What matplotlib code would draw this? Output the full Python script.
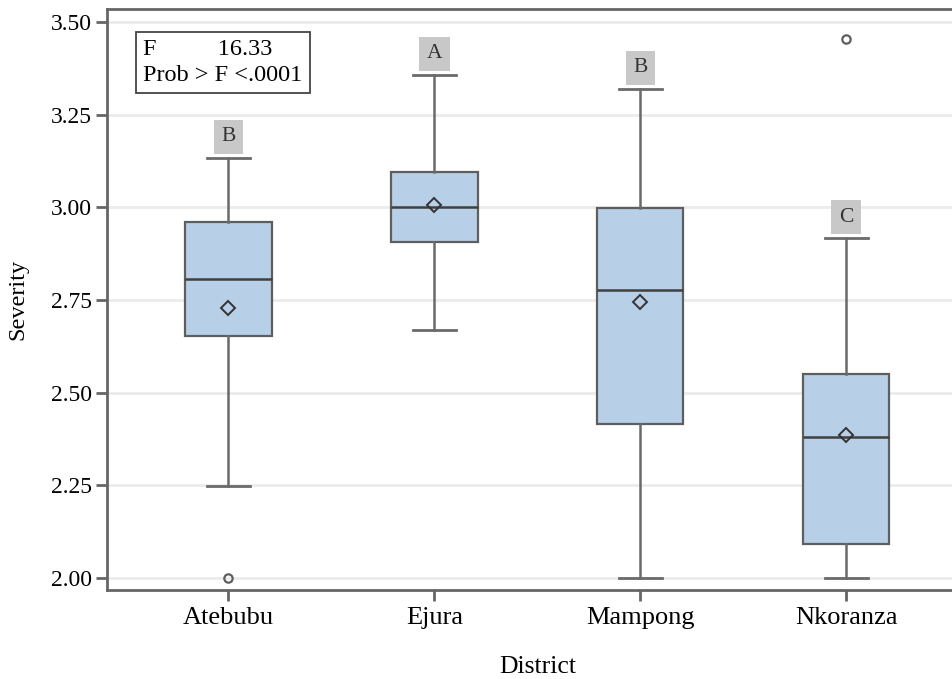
import matplotlib
matplotlib.use("Agg")
import matplotlib.pyplot as plt

districts = ["Atebubu", "Ejura", "Mampong", "Nkoranza"]
whislo = [2.248, 2.669, 2.00, 2.00]
q1 = [2.653, 2.907, 2.416, 2.092]
med = [2.807, 3.001, 2.777, 2.380]
q3 = [2.960, 3.095, 2.998, 2.550]
whishi = [3.133, 3.357, 3.319, 2.917]
means = [2.728, 3.006, 2.745, 2.386]
outliers = [[2.00], [], [], [3.454]]
groups = ["B", "A", "B", "C"]
yticks = [2.00, 2.25, 2.50, 2.75, 3.00, 3.25, 3.50]
f_value = "16.33"
p_value = "<.0001"

plt.rcParams["font.family"] = ["Liberation Serif", "DejaVu Serif"]

fig = plt.figure(figsize=(9.52, 6.79), dpi=100)
ax = fig.add_axes([0.1124, 0.1311, 0.904, 0.8556])

stats = []
for i, name in enumerate(districts):
    stats.append({
        "label": name, "whislo": whislo[i], "q1": q1[i], "med": med[i],
        "q3": q3[i], "whishi": whishi[i], "mean": means[i], "fliers": outliers[i],
    })

edge = "#5e5e5e"
ax.bxp(
    stats, positions=range(len(districts)), widths=0.42, patch_artist=True,
    showmeans=True, capwidths=0.21,
    boxprops=dict(facecolor="#b8cfe8", edgecolor=edge, linewidth=1.6),
    medianprops=dict(color="#404040", linewidth=1.8),
    whiskerprops=dict(color="#6a6a6a", linewidth=1.8),
    capprops=dict(color="#6a6a6a", linewidth=2.0),
    meanprops=dict(marker="D", markerfacecolor="none", markeredgecolor="#333333",
                   markersize=7, markeredgewidth=1.4),
    flierprops=dict(marker="o", markerfacecolor="none", markeredgecolor=edge,
                    markersize=6, markeredgewidth=1.6),
)

for i, g in enumerate(groups):
    ax.text(i, whishi[i] + 0.057, g, ha="center", va="center", fontsize=15.5,
            color="#333333",
            bbox=dict(boxstyle="square,pad=0.35", facecolor="#c8c8c8", edgecolor="none"))

ax.set_xlim(-0.59, 3.59)
ax.set_ylim(1.968, 3.535)
ax.set_yticks(yticks)
ax.set_yticklabels([f"{t:.2f}" for t in yticks], fontsize=17)
ax.set_xticks(range(len(districts)))
ax.set_xticklabels(districts, fontsize=19)
ax.set_xlabel("District", fontsize=18.5, labelpad=20)
ax.set_ylabel("Severity", fontsize=17.5, labelpad=16)

ax.yaxis.grid(True, color="#ebebeb", linewidth=2)
ax.set_axisbelow(True)
for side in ["left", "bottom", "top", "right"]:
    ax.spines[side].set_color("#666666")
    ax.spines[side].set_linewidth(2)
ax.tick_params(axis="both", length=8, width=2, color="#666666", pad=3)
ax.tick_params(axis="x", pad=4)

ax.text(0.042, 0.948, f"F          {f_value}\nProb > F {p_value}", transform=ax.transAxes,
        ha="left", va="top", fontsize=17.5, linespacing=1.3,
        bbox=dict(boxstyle="square,pad=0.3", facecolor="white", edgecolor="#444444",
                  linewidth=1.3))

fig.savefig("out.png", dpi=100)
plt.close(fig)
